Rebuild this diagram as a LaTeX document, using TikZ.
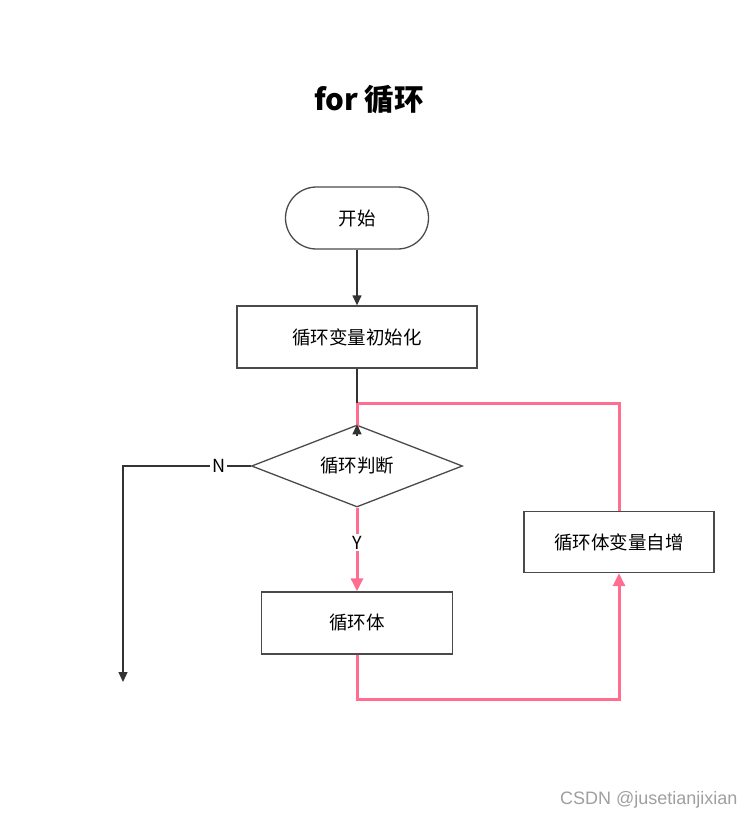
\documentclass[tikz,border=0pt]{standalone}
\usepackage{fontspec}
\setmainfont{Noto Sans CJK SC}
\newfontfamily\wmfont{Liberation Sans}
\usetikzlibrary{shapes.geometric,arrows.meta}
\definecolor{pk}{HTML}{FF6E91}
\definecolor{ln}{HTML}{333333}
\definecolor{bd}{HTML}{4A4A4A}
\begin{document}
\begin{tikzpicture}[x=1pt,y=-1pt,
  box/.style={draw=bd,line width=1.3pt,fill=white,inner sep=0pt,font=\fontsize{18.5}{22}\selectfont},
  blk/.style={draw=ln,line width=1.3pt,-{Triangle[length=10pt,width=9pt]}},
  pkl/.style={draw=pk,line width=3pt},
  pka/.style={pkl,-{Triangle[length=13pt,width=12pt]}},
  lbl/.style={fill=white,inner sep=2pt,font=\fontsize{18}{21}\selectfont}]
\useasboundingbox (0,0) rectangle (755,820);
\node[font=\fontsize{29.5}{34}\selectfont\bfseries] (title) at (369,100) {for 循环};
\node[box,rounded corners=31pt,minimum width=143pt,minimum height=62pt] (start) at (357,218) {开始};
\node[box,minimum width=240pt,minimum height=62pt] (init) at (357,337) {循环变量初始化};
\node[box,diamond,shape aspect=2.57,minimum width=211pt,minimum height=82pt] (dec) at (357,466) {循环判断};
\node[box,minimum width=191pt,minimum height=62pt] (body) at (357,623) {循环体};
\node[box,minimum width=190pt,minimum height=61pt] (inc) at (619,542) {循环体变量自增};
\coordinate (join) at (357,403);
\coordinate (nturn) at (123,466);
\coordinate (nend) at (123,682);
\coordinate (bturn) at (357,699);
\draw[blk] (start) -- (init);
\draw[pkl] (inc.north) |- (join) -- ([yshift=-9pt]dec.north);
\draw[draw=ln,line width=1.3pt] (init.south) -- (join);
\draw[blk] ([yshift=-12pt]dec.north) -- (dec.north);
\draw[blk] (dec.west) -- node[lbl,pos=0.25]{N} (nturn) -- (nend);
\draw[pka] (dec.south) -- node[lbl,pos=0.42]{Y} (body.north);
\draw[pka] (body.south) -- (bturn) -| (inc.south);
\node[anchor=east,text=gray!75,font=\wmfont\fontsize{18}{20}\selectfont] (wm) at (741,800) {CSDN @jusetianjixian};
\end{tikzpicture}
\end{document}
